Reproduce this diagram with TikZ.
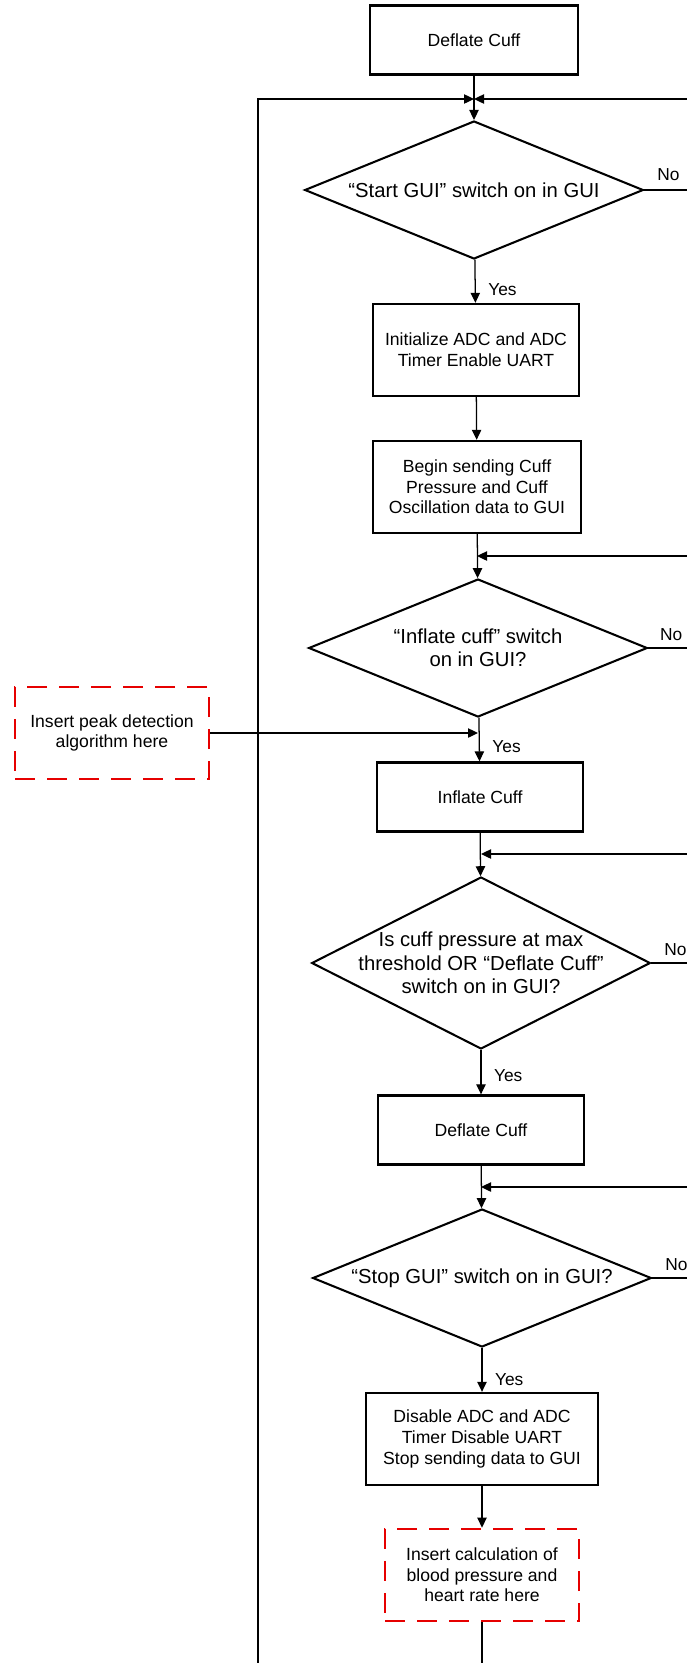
\documentclass[tikz,border=0pt]{standalone}
\usepackage{fontspec}
\setmainfont{Liberation Sans}
\usetikzlibrary{shapes.geometric, arrows.meta, positioning}
\definecolor{insertred}{RGB}{230,0,0}

\begin{document}
\begin{tikzpicture}[
    x=0.75pt, y=-0.75pt,
    box/.style={rectangle, draw, line width=1.75pt, align=center, minimum width=155pt, minimum height=69pt, inner sep=0pt, font=\fontsize{13.2}{15.5}\selectfont},
    shortbox/.style={box, minimum height=51.75pt},
    decision/.style={diamond, draw, line width=1.55pt, align=center, minimum width=254pt, minimum height=103.5pt, aspect=2.46, inner sep=0pt, font=\fontsize{15.2}{17.5}\selectfont},
    todo/.style={rectangle, draw=insertred, line width=2pt, dash pattern=on 15pt off 9pt, align=center, minimum width=145.5pt, minimum height=69pt, inner sep=0pt, font=\fontsize{13.2}{15.5}\selectfont},
    arrow/.style={-{Triangle[length=7.5pt, width=7pt]}, line width=0.95pt},
    lab/.style={font=\fontsize{13}{15}\selectfont}
]
\useasboundingbox (0,0) rectangle (686,1663);

% Nodes
\node[shortbox, minimum width=156pt] (deflatefirst) at (474,40) {Deflate Cuff};
\node[decision] (askstart) at (474,190) {“Start GUI” switch on in GUI};
\node[box, minimum width=154.5pt] (initadc) at (476,350) {Initialize ADC and ADC\\Timer Enable UART};
\node[box, minimum width=156pt] (sending) at (477,487) {Begin sending Cuff\\Pressure and Cuff\\Oscillation data to GUI};
\node[decision] (askinflate) at (478,648) {“Inflate cuff” switch\\on in GUI?};
\node[shortbox, minimum width=154.5pt] (inflate) at (480,797) {Inflate Cuff};
\node[decision, minimum height=129pt, aspect=1.97, inner sep=-12pt] (askmax) at (481,963) {Is cuff pressure at max\\threshold OR “Deflate Cuff”\\switch on in GUI?};
\node[shortbox, minimum width=154.5pt] (deflate) at (481,1130) {Deflate Cuff};
\node[decision] (askstop) at (482,1278) {“Stop GUI” switch on in GUI?};
\node[box, minimum width=174pt] (disable) at (482,1439) {Disable ADC and ADC\\Timer Disable UART\\Stop sending data to GUI};
\node[todo] (calcbp) at (482,1575) {Insert calculation of\\blood pressure and\\heart rate here};
\node[todo] (peak) at (112,733) {Insert peak detection\\algorithm here};

\coordinate (joinstart) at (474,99);
\coordinate (joininflate) at (477,556);
\coordinate (joinpeak) at (478,733);
\coordinate (joinmax) at (481,854);
\coordinate (joinstop) at (481,1187);
\coordinate (loopback) at (258,1720);

% Connections
\draw[arrow] (deflatefirst) -- (askstart);
\draw[arrow] (askstart) -- node[lab, right, pos=0.7, xshift=6pt] {Yes} (initadc);
\draw[arrow] (initadc) -- (sending);
\draw[arrow] (sending) -- (askinflate);
\draw[arrow] (askinflate) -- node[lab, right, pos=0.67, xshift=6pt] {Yes} (inflate);
\draw[arrow] (inflate) -- (askmax);
\draw[arrow] (askmax) -- node[lab, right, pos=0.57, xshift=6pt] {Yes} (deflate);
\draw[arrow] (deflate) -- (askstop);
\draw[arrow] (askstop) -- node[lab, right, pos=0.72, xshift=6pt] {Yes} (disable);
\draw[arrow] (disable) -- (calcbp);

% wait loops on the right
\draw[arrow] (askstart.east) node[lab, anchor=south west, xshift=6pt, yshift=3pt] {No} -- ++(80,0) |- (joinstart);
\draw[arrow] (askinflate.east) node[lab, anchor=south west, xshift=5pt, yshift=2pt] {No} -- ++(80,0) |- (joininflate);
\draw[arrow] (askmax.east) node[lab, anchor=south west, xshift=6pt, yshift=2pt] {No} -- ++(80,0) |- (joinmax);
\draw[arrow] (askstop.east) node[lab, anchor=south west, xshift=6pt, yshift=2pt] {No} -- ++(80,0) |- (joinstop);

% back to the start
\draw[arrow] (calcbp.south) |- (loopback) |- (joinstart);
\draw[arrow] (peak) -- (joinpeak);

\end{tikzpicture}
\end{document}
